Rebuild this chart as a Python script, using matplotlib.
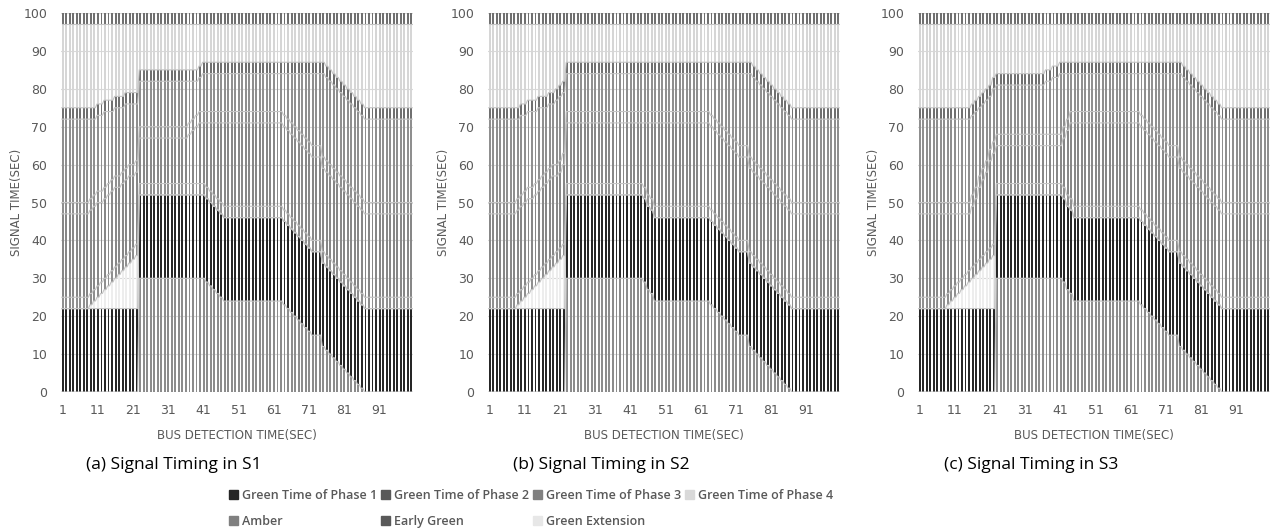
import numpy as np
import matplotlib.pyplot as plt
from matplotlib.patches import Patch

t = np.arange(1, 101)
ticks = [1, 11, 21, 31, 41, 51, 61, 71, 81, 91]

# green extension of phase 1 (same in all three schemes)
ext = [0]*8 + [1, 2, 3, 4, 5, 6, 7, 8, 9, 10, 11, 12, 13, 14] + [0]*78

# S1 - boundaries
early_a = ([0]*22 + [30]*19 + [29, 28, 27, 26, 25] + [24]*17
           + [23, 22, 21, 20, 19, 18, 17, 16, 15, 15, 15, 12]
           + [11, 10, 9, 8, 7, 6, 5, 4, 3, 2, 1] + [0]*14)
p2top_a = ([47]*8 + [48, 49, 50, 50, 51, 52, 53, 54, 54, 55, 56, 57, 57, 58]
           + [67]*14 + [68, 69, 70, 71] + [71]*23
           + [70, 69, 68, 67, 66, 65, 64, 63, 62, 62, 62, 59]
           + [58, 57, 56, 55, 54, 53, 52, 51, 50, 49, 48] + [47]*14)
p3top_a = ([72]*10 + [73]*2 + [74]*3 + [75]*3 + [76]*4 + [82]*17 + [83]
           + [84]*35 + [83, 82, 81, 80, 79, 78, 77, 76, 75, 74, 73] + [72]*14)

# S2
early_b = ([0]*22 + [30]*22 + [29, 27, 26] + [24]*16
           + [23, 22, 21, 20, 19, 18, 17, 16, 15, 15, 15, 12]
           + [11, 10, 9, 8, 7, 6, 5, 4, 3, 2, 1] + [0]*14)
p2top_b = ([47]*8 + [48, 49, 50, 51, 51, 52, 53, 54, 55, 56, 57, 57, 58, 60]
           + [71]*41
           + [70, 69, 68, 67, 66, 65, 64, 63, 62, 62, 62, 59]
           + [58, 57, 56, 55, 54, 53, 52, 51, 50, 49, 48] + [47]*14)
p3top_b = ([72]*9 + [73, 73, 74, 74, 74, 75, 75, 75, 76, 76, 77, 78, 79]
           + [84]*53 + [83, 82, 81, 80, 79, 78, 77, 76, 75, 74, 73] + [72]*14)

# S3
early_c = ([0]*22 + [30]*19 + [29, 27, 26] + [24]*19
           + [23, 22, 21, 20, 19, 18, 17, 16, 15, 15, 15, 12]
           + [11, 10, 9, 8, 7, 6, 5, 4, 3, 2, 1] + [0]*14)
p2top_c = ([47]*15 + [49, 51, 54, 56, 58, 61, 63]
           + [65]*19 + [67, 69] + [71]*20
           + [70, 69, 68, 67, 66, 65, 64, 63, 62, 62, 62, 59]
           + [58, 57, 56, 55, 54, 53, 52, 51, 50, 49, 48] + [47]*14)
p3top_c = ([72]*15 + [73, 74, 75, 76, 77, 78, 80]
           + [81]*14 + [82, 82, 83, 83] + [84]*35
           + [83, 82, 81, 80, 79, 78, 77, 76, 75, 74, 73] + [72]*14)

# legend colours
c_p1 = '#262626'
c_p2 = '#595959'
c_p3 = '#808080'
c_p4 = '#d9d9d9'
c_amb = '#808080'
c_early = '#595959'
c_ext = '#e7e7e7'

# colours of the bars as they come out in the picture
bar_cols = ['#8c8c8c', '#262626', '#ededed', '#8f8f8f', '#878787',
            '#8f8f8f', '#8f8f8f', '#707070', '#d6d6d6', '#707070']
w = 0.55


def series_line(ax, top):
    xs = []
    ys = []
    for i in range(100):
        xs += [t[i] - w/2, t[i] + w/2]
        ys += [top[i], top[i]]
    ax.plot(xs, ys, color='#c4c4c4', linewidth=0.8, zorder=3)


def stacked(ax, early, p2top, p3top):
    e = np.array(ext)
    early = np.array(early)
    p2top = np.array(p2top)
    p3top = np.array(p3top)
    p1 = np.full(100, 22)
    amb = np.full(100, 3)
    p2 = p2top - (early + p1 + e + amb)
    p3 = p3top - (p2top + amb)
    p4 = 97 - (p3top + amb)
    parts = [early, p1, e, amb, p2, amb, p3, amb, p4, amb]
    bottom = np.zeros(100)
    for h, c in zip(parts, bar_cols):
        ax.bar(t, h, bottom=bottom, width=w, color=c, linewidth=0, zorder=2)
        bottom = bottom + h
        if bottom.max() < 99.5:
            series_line(ax, bottom)
    ax.set_xlim(0.5, 100.5)
    ax.set_ylim(0, 100)
    ax.set_yticks(range(0, 101, 10))
    ax.set_xticks(ticks)
    ax.grid(axis='y', color='#d9d9d9', linewidth=0.8, zorder=0)
    for s in ax.spines.values():
        s.set_visible(False)
    ax.tick_params(length=0, labelsize=9, labelcolor='#595959')
    ax.tick_params(axis='x', pad=9)
    ax.tick_params(axis='y', pad=10)
    ax.set_ylabel('SIGNAL TIME(SEC)', fontsize=8.5, color='#595959', labelpad=0)
    ax.set_xlabel('BUS DETECTION TIME(SEC)', fontsize=8.5, color='#595959', labelpad=8)


fig = plt.figure(figsize=(12.73, 5.32), dpi=100)
lefts = [61, 488, 918]
panels = [(early_a, p2top_a, p3top_a),
          (early_b, p2top_b, p3top_b),
          (early_c, p2top_c, p3top_c)]
captions = ['(a) Signal Timing in S1', '(b) Signal Timing in S2', '(c) Signal Timing in S3']
for i in range(3):
    ax = fig.add_axes([lefts[i]/1273, 140/532, 352/1273, 379/532])
    stacked(ax, *panels[i])
    fig.text((lefts[i] + 113)/1273, 1 - 465/532, captions[i], fontsize=12.5,
             ha='center', va='center', family='Open Sans')

handles = [Patch(color=c_p1, label='Green Time of Phase 1'),
           Patch(color=c_amb, label='Amber'),
           Patch(color=c_p2, label='Green Time of Phase 2'),
           Patch(color=c_early, label='Early Green'),
           Patch(color=c_p3, label='Green Time of Phase 3'),
           Patch(color=c_ext, label='Green Extension'),
           Patch(color=c_p4, label='Green Time of Phase 4')]
fig.legend(handles=handles, ncol=4, loc='upper left', bbox_to_anchor=(224/1273, 1 - 484/532),
           frameon=False, prop={'family': 'Open Sans', 'weight': 'semibold', 'size': 9},
           labelcolor='#595959', handlelength=0.7, handleheight=0.7, handletextpad=0.3,
           columnspacing=0.35, labelspacing=1.05, borderaxespad=0)

plt.savefig('out.png', dpi=100)
